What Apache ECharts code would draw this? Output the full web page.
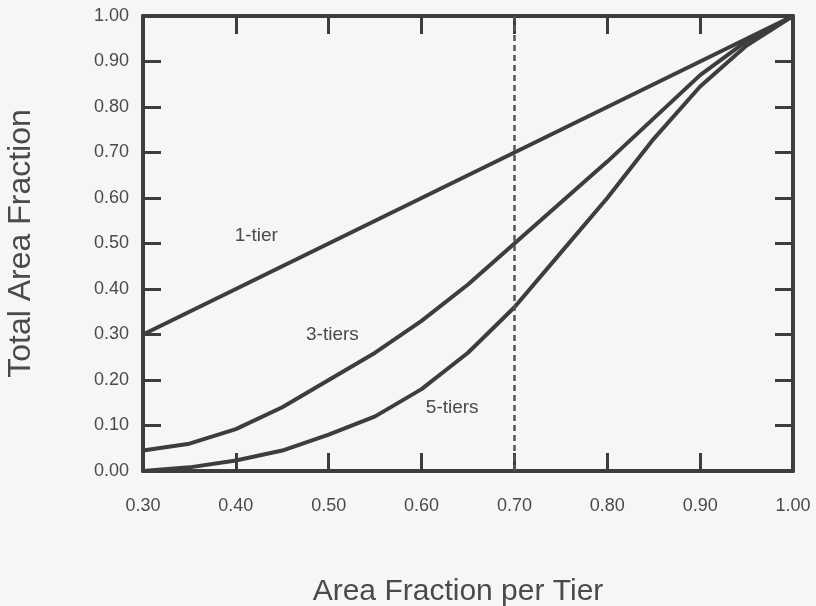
<!DOCTYPE html>
<html>
<head>
<meta charset="utf-8">
<style>
html, body { margin: 0; padding: 0; background: #f6f6f6; }
#graphElem { width: 816px; height: 606px; }
</style>
</head>
<body>
<div id="graphElem"></div>

<script src="https://cdn.jsdelivr.net/npm/echarts@6/dist/echarts.min.js"></script>

<script>

let tierX = [0.30, 0.35, 0.40, 0.45, 0.50, 0.55, 0.60, 0.65, 0.70, 0.75, 0.80, 0.85, 0.90, 0.95, 1.00];

let oneTier = [0.30, 0.35, 0.40, 0.45, 0.50, 0.55, 0.60, 0.65, 0.70, 0.75, 0.80, 0.85, 0.90, 0.95, 1.00];
let threeTiers = [0.045, 0.06, 0.092, 0.14, 0.20, 0.26, 0.33, 0.41, 0.50, 0.59, 0.68, 0.775, 0.87, 0.945, 1.00];
let fiveTiers = [0.0, 0.008, 0.023, 0.045, 0.08, 0.12, 0.18, 0.26, 0.36, 0.48, 0.60, 0.73, 0.845, 0.935, 1.00];

let seriesNames = ["1-tier", "3-tiers", "5-tiers"];
// where each curve's label sits, in data units
let labelSpots = [[0.422, 0.517], [0.504, 0.30], [0.633, 0.138]];

let dashedAt = 0.70;

let ink = "#3d3d3d";
let textInk = "#4a4a4a";
let font = "Liberation Sans, Arial, sans-serif";

let chart = echarts.init(document.getElementById("graphElem"));

function pairs(ys) {
	return tierX.map((x, i) => [x, ys[i]]);
}

function curve(name, ys, spot) {
	return {
		name: name,
		type: "line",
		data: pairs(ys),
		symbol: "none",
		lineStyle: { color: ink, width: 4 },
		z: 3,
		markPoint: {
			symbol: "circle",
			symbolSize: 0,
			silent: true,
			label: {
				show: true,
				formatter: name,
				color: textInk,
				fontSize: 19,
				fontFamily: font
			},
			data: [{ coord: spot }]
		}
	};
}

let tickLabel = {
	color: textInk,
	fontSize: 18,
	fontFamily: font,
	formatter: v => v.toFixed(2)
};

let frameLine = { show: true, onZero: false, lineStyle: { color: ink, width: 4 } };
let innerTick = { show: true, inside: true, length: 18, lineStyle: { color: ink, width: 3 } };

let series = [
	curve(seriesNames[0], oneTier, labelSpots[0]),
	curve(seriesNames[1], threeTiers, labelSpots[1]),
	curve(seriesNames[2], fiveTiers, labelSpots[2])
];

series[0].markLine = {
	symbol: "none",
	silent: true,
	label: { show: false },
	lineStyle: { color: "#555", width: 2.5, type: [6, 4] },
	data: [{ xAxis: dashedAt }]
};

chart.setOption({
	backgroundColor: "#f6f6f6",
	animation: false,
	grid: { left: 143, right: 23, top: 16, bottom: 135, outerBoundsMode: "none" },
	xAxis: [
		{
			type: "value",
			min: 0.3,
			max: 1.0,
			interval: 0.1,
			name: "Area Fraction per Tier",
			nameLocation: "middle",
			nameGap: 106,
			nameTextStyle: { color: textInk, fontSize: 30, fontFamily: font, padding: [0, 20, 0, 0] },
			axisLine: frameLine,
			axisTick: innerTick,
			axisLabel: Object.assign({ margin: 26 }, tickLabel),
			splitLine: { show: false }
		},
		{
			type: "value",
			position: "top",
			min: 0.3,
			max: 1.0,
			interval: 0.1,
			axisLine: frameLine,
			axisTick: innerTick,
			axisLabel: { show: false },
			splitLine: { show: false }
		}
	],
	yAxis: [
		{
			type: "value",
			min: 0,
			max: 1,
			interval: 0.1,
			name: "Total Area Fraction",
			nameLocation: "middle",
			nameGap: 106,
			nameTextStyle: { color: textInk, fontSize: 32, fontFamily: font },
			axisLine: frameLine,
			axisTick: innerTick,
			axisLabel: Object.assign({ margin: 14 }, tickLabel),
			splitLine: { show: false }
		},
		{
			type: "value",
			position: "right",
			min: 0,
			max: 1,
			interval: 0.1,
			axisLine: frameLine,
			axisTick: innerTick,
			axisLabel: { show: false },
			splitLine: { show: false }
		}
	],
	series: series
});

</script>
</body>
</html>
